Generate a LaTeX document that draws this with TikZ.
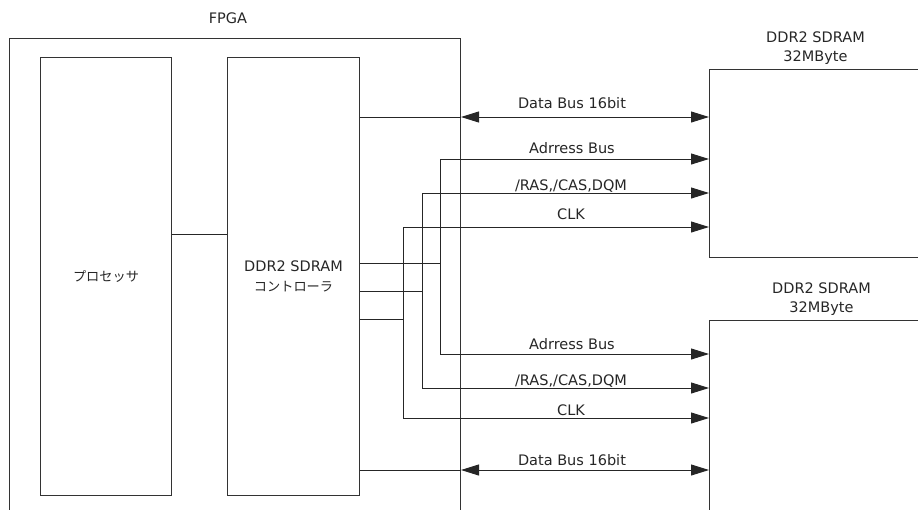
\documentclass[tikz,border=0pt]{standalone}
\usepackage{fontspec}
\setmainfont{DejaVu Sans}
\newfontfamily\jpfont{Noto Sans CJK JP}
\usetikzlibrary{arrows.meta,positioning}

\begin{document}
\begin{tikzpicture}[
  x=1pt, y=-1pt,
  blk/.style={draw=black!80, line width=1pt, inner sep=0pt, align=center},
  sig/.style={draw=black!85, line width=1pt},
  tip/.style={sig, -{Triangle[length=18pt,width=11pt]}},
  both/.style={sig, {Triangle[length=18pt,width=11pt]}-{Triangle[length=18pt,width=11pt]}},
  lbl/.style={font=\fontsize{14.5}{19}\selectfont, align=center, inner sep=0pt, text=black!85},
  node distance=5pt
]
  \path[use as bounding box, clip] (0,0) rectangle (918,509);

  % FPGA and its blocks
  \node[blk, minimum width=451pt, minimum height=502pt, anchor=north west] (fpga) at (9,38) {};
  \node[lbl] (fpgalbl) at (228,18) {FPGA};
  \node[blk, minimum width=131pt, minimum height=438pt, anchor=north west,
        font=\fontsize{13.2}{19}\jpfont, text=black!85] (proc) at (40,57) {プロセッサ};
  \node[blk, minimum width=132pt, minimum height=438pt, anchor=north west,
        font=\fontsize{14.5}{18}\selectfont, text=black!85] (ctrl) at (227,57)
        {\raisebox{2pt}{DDR2 SDRAM}\\{\fontsize{13.2}{18}\jpfont コントローラ}};

  % memories
  \node[blk, minimum width=212pt, minimum height=188pt, anchor=north west] (ram1) at (709,69) {};
  \node[blk, minimum width=212pt, minimum height=220pt, anchor=north west] (ram2) at (709,320) {};
  \node[lbl, above=4pt of ram1] (ram1lbl) {DDR2 SDRAM\\32MByte};
  \node[lbl, above=4pt of ram2, xshift=6pt] (ram2lbl) {DDR2 SDRAM\\32MByte};

  \draw[sig] (proc.east |- 0,234) -- (ctrl.west |- 0,234);

  % upper memory
  \draw[sig] (ctrl.east |- 0,117) -- (fpga.east |- 0,117);
  \draw[both] (fpga.east |- 0,117) -- (ram1.west |- 0,117);
  \draw[tip] (ctrl.east |- 0,263) -- (440,263) |- (ram1.west |- 0,159);
  \draw[tip] (ctrl.east |- 0,291) -- (422,291) |- (ram1.west |- 0,193);
  \draw[tip] (ctrl.east |- 0,319) -- (403,319) |- (ram1.west |- 0,227);

  % lower memory
  \draw[tip] (440,263) |- (ram2.west |- 0,354);
  \draw[tip] (422,291) |- (ram2.west |- 0,388);
  \draw[tip] (403,319) |- (ram2.west |- 0,418);
  \draw[sig] (ctrl.east |- 0,470) -- (fpga.east |- 0,470);
  \draw[both] (fpga.east |- 0,470) -- (ram2.west |- 0,470);

  \node[lbl] (data1) at (572,103) {Data Bus 16bit};
  \node[lbl] (addr1) at (572,148) {Adrress Bus};
  \node[lbl] (ras1)  at (571,186) {/RAS,/CAS,DQM};
  \node[lbl] (clk1)  at (571,214) {CLK};
  \node[lbl] (addr2) at (572,344) {Adrress Bus};
  \node[lbl] (ras2)  at (571,381) {/RAS,/CAS,DQM};
  \node[lbl] (clk2)  at (571,410) {CLK};
  \node[lbl] (data2) at (572,460) {Data Bus 16bit};
\end{tikzpicture}
\end{document}
